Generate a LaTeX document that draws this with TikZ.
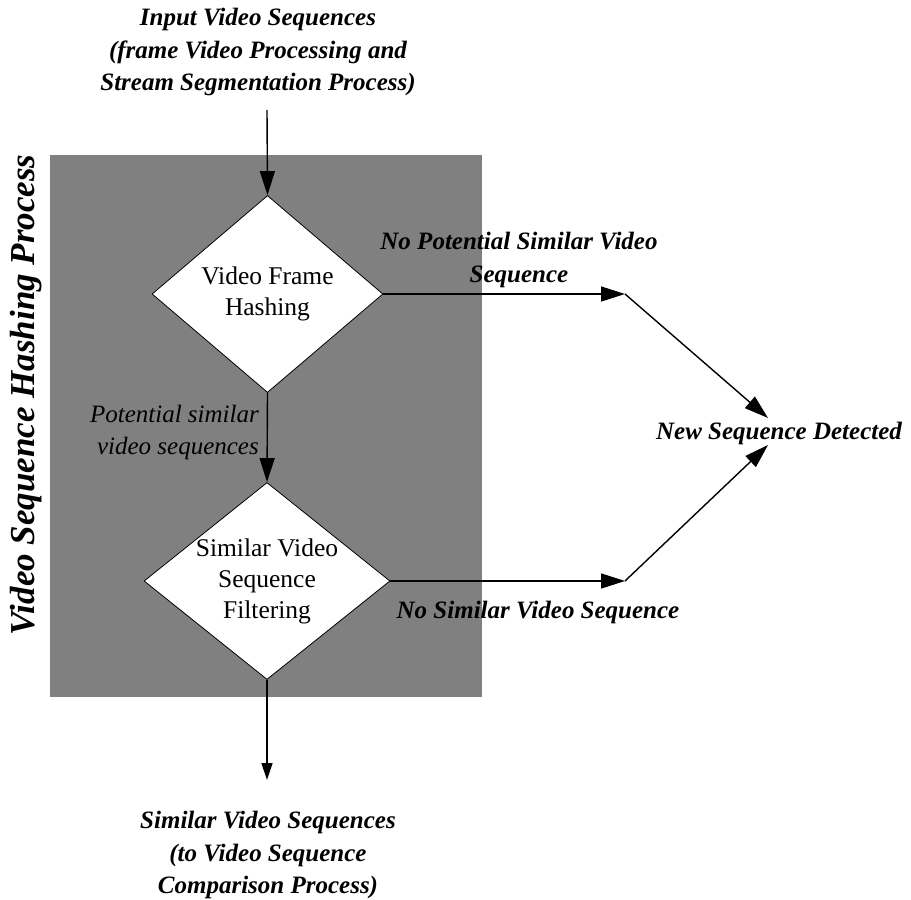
\documentclass[tikz,border=0pt]{standalone}
\usepackage{fontspec}
\setmainfont{Liberation Serif}
\usetikzlibrary{arrows.meta,shapes.geometric}
\definecolor{boxgray}{RGB}{128,128,128}
\begin{document}
\begin{tikzpicture}[x=1pt,y=-1pt,
  dia/.style={diamond,draw=black,line width=0.8pt,fill=white,inner sep=0pt},
  conn/.style={line width=1.4pt,-{Triangle[length=24pt,width=15pt]}},
  lbl/.style={font=\fontsize{25}{32.5}\selectfont\bfseries\itshape,align=center,inner sep=0pt},
  dtxt/.style={font=\fontsize{25.5}{31}\selectfont,align=center,inner sep=0pt}]
\useasboundingbox (0,0) rectangle (911,900);
\fill[boxgray] (50,155) rectangle (482,697);
\node[lbl,font=\fontsize{35}{40}\selectfont\bfseries\itshape,rotate=90] (vlab) at (26,395) {Video Sequence Hashing Process};
% diamonds
\node[dia,minimum width=231pt,minimum height=197pt] (d1) at (267.5,294) {};
\node[dtxt] (t1) at (267.5,294) {Video Frame\\Hashing};
\node[dia,minimum width=246pt,minimum height=197pt] (d2) at (267,581) {};
\node[dtxt] (t2) at (267,581) {Similar Video\\Sequence\\Filtering};
% texts
\node[lbl] (inp) at (258,52) {Input Video Sequences\\(frame Video Processing and\\Stream Segmentation Process)};
\node[lbl] (outp) at (268,855) {Similar Video Sequences\\(to Video Sequence\\Comparison Process)};
\node[lbl] (nsd) at (779,433) {New Sequence Detected};
\node[lbl] (lab1) at (519,260) {No Potential Similar Video\\Sequence};
\node[lbl] (lab2) at (538,612) {No Similar Video Sequence};
\node[font=\fontsize{25}{32}\selectfont\itshape,align=right,inner sep=0pt,anchor=east] (lab3) at (259,432) {Potential similar\\video sequences};
% coordinates
\coordinate (top) at (267,110);
\coordinate (bot) at (267,780);
\coordinate (c1) at (625,294);
\coordinate (c2) at (625,581);
% connectors
\draw[conn] (top) -- (d1.north);
\draw[conn] (d1.south) -- (d2.north);
\draw[line width=1.4pt,-{Triangle[length=17pt,width=11pt]}] (d2.south) -- (bot);
\draw[conn] (d1.east) -- (c1);
\draw[conn] (d2.east) -- (c2);
\draw[conn] (c1) -- ([xshift=-11pt,yshift=15pt]nsd.center);
\draw[conn] (c2) -- ([xshift=-11pt,yshift=-12pt]nsd.center);
\end{tikzpicture}
\end{document}
